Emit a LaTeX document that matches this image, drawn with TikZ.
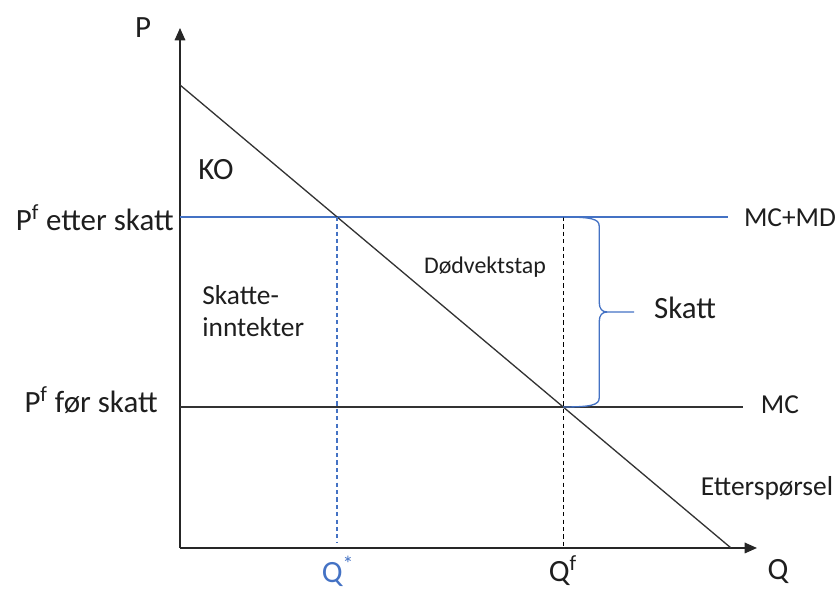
\documentclass[tikz,border=0pt]{standalone}
\usepackage{fontspec}
\setmainfont{Carlito}
\usetikzlibrary{arrows.meta}
\definecolor{skattblaa}{RGB}{68,114,196}
\definecolor{tekst}{RGB}{30,30,30}
\newcommand{\FL}{\fontsize{17.6}{21}\selectfont}
\newcommand{\FM}{\fontsize{15.6}{18}\selectfont}
\newcommand{\FS}{\fontsize{13.6}{16}\selectfont}

\begin{document}
\begin{tikzpicture}[x=0.02cm,y=0.02cm]
\tikzstyle{texto}=[draw=none,fill=none,tekst,inner sep=0pt,font=\FL]
\tikzstyle{akse}=[black!85,line width=0.9pt,-{Triangle[length=7pt,width=6pt]}]
\tikzstyle{kurve}=[black!80,line width=0.75pt]
\tikzstyle{skattlinje}=[skattblaa,line width=0.75pt]
\tikzstyle{hjelp}=[dash pattern=on 2.4pt off 1.8pt,line width=0.7pt]

\useasboundingbox (0,0) rectangle (839,590);

\coordinate (O) at (180,42);
\coordinate (Ptopp) at (180,562);
\coordinate (Qslutt) at (757,42);
\coordinate (bunn) at (0,48);
\coordinate (D1) at (180,505);
\coordinate (D2) at (731,42);
\coordinate (MD0) at (180,373);
\coordinate (MD1) at (728,373);
\coordinate (MC0) at (180,183);
\coordinate (MC1) at (743,183);
\coordinate (Qstj) at (intersection of D1--D2 and MD0--MD1);
\coordinate (Qf) at (intersection of D1--D2 and MC0--MC1);
\coordinate (Qfo) at (Qf |- MD0);

\draw[akse] (O) -- (Ptopp);
\draw[akse] (O) -- (Qslutt);

\draw[skattlinje] (MD0) -- (MD1);
\draw[kurve] (MC0) -- (MC1);
\draw[kurve] (D1) -- (D2);

\draw[hjelp,draw=skattblaa] (Qstj) -- (Qstj |- bunn);
\draw[hjelp,draw=black] (Qfo) -- (Qf |- O);

% klammen for skatten
\draw[skattlinje] (Qfo) .. controls +(28,0) and +(0,7) .. ++(36,-9) -- ++(0,-76)
  .. controls +(0,-7) and +(-5,0) .. ++(8,-10) -- ++(27,0);
\draw[skattlinje] (Qf) .. controls +(28,0) and +(0,-7) .. ++(36,9) -- ++(0,76)
  .. controls +(0,7) and +(-5,0) .. ++(8,10);

\node[texto] (P) at (143,562) {P};
\node[texto] (Q) at (778,18) {Q};
\node[texto,skattblaa] (qstjerne) at (338,19) {Q\textsuperscript{*}};
\node[texto] (qf) at (563,19) {Q\textsuperscript{f}};
\node[texto,anchor=east] (pefter) at (174,372) {P\textsuperscript{f} etter skatt};
\node[texto,anchor=east] (pfor) at (158,190) {P\textsuperscript{f} før skatt};
\node[texto] (ko) at (216,420) {KO};
\node[texto,font=\FM,anchor=west,align=left] (inntekt) at (202,279) {Skatte-\\inntekter};
\node[texto,font=\FS] (dvt) at (485,323) {Dødvektstap};
\node[texto,font=\FM] (mcmd) at (790,372) {MC+MD};
\node[texto,font=\FM] (mc) at (780,185) {MC};
\node[texto,font=\FM] (etsp) at (767,102) {Etterspørsel};
\node[texto] (skatt) at (685,282) {Skatt};
\end{tikzpicture}
\end{document}
